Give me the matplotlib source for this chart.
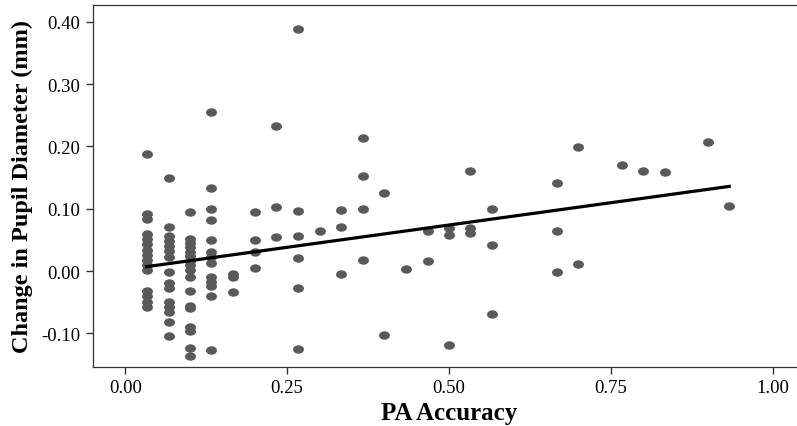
import numpy as np
import matplotlib
matplotlib.use("Agg")
import matplotlib.pyplot as plt
from matplotlib.path import Path
from matplotlib.transforms import Affine2D

# PA accuracy levels and the pupil change values observed at each level
accuracy_levels = [0.033, 0.067, 0.100, 0.133, 0.167, 0.200, 0.233, 0.267,
                   0.300, 0.333, 0.367, 0.400, 0.433, 0.467, 0.500, 0.533,
                   0.567, 0.667, 0.700, 0.767, 0.800, 0.833, 0.900, 0.933]

pupil_change = [
    [0.188, 0.092, 0.084, 0.060, 0.051, 0.043, 0.034, 0.026, 0.018, 0.010,
     0.002, -0.032, -0.040, -0.050, -0.058],
    [0.150, 0.070, 0.057, 0.049, 0.040, 0.032, 0.022, -0.001, -0.019, -0.027,
     -0.049, -0.058, -0.066, -0.081, -0.104],
    [0.095, 0.051, 0.045, 0.038, 0.031, 0.024, 0.016, 0.009, 0.002, -0.009,
     -0.032, -0.056, -0.060, -0.089, -0.096, -0.123, -0.137],
    [0.256, 0.133, 0.100, 0.082, 0.050, 0.030, 0.022, 0.013, -0.010, -0.017,
     -0.024, -0.040, -0.127],
    [-0.005, -0.009, -0.034],
    [0.094, 0.050, 0.030, 0.005],
    [0.232, 0.103, 0.054],
    [0.388, 0.096, 0.056, 0.021, -0.027, -0.125],
    [0.065],
    [0.098, 0.071, -0.004],
    [0.213, 0.152, 0.100, 0.018],
    [0.125, -0.103],
    [0.004],
    [0.065, 0.016],
    [0.069, 0.058, -0.118],
    [0.161, 0.069, 0.061],
    [0.100, 0.042, -0.069],
    [0.142, 0.064, -0.002],
    [0.199, 0.012],
    [0.170],
    [0.160],
    [0.159],
    [0.207],
    [0.105],
]

x_ticks = [0.0, 0.25, 0.5, 0.75, 1.0]
y_ticks = [-0.1, 0.0, 0.1, 0.2, 0.3, 0.4]

x = []
y = []
for level, values in zip(accuracy_levels, pupil_change):
    for v in values:
        x.append(level)
        y.append(v)
x = np.array(x)
y = np.array(y)

plt.rcParams["font.family"] = ["Liberation Serif", "DejaVu Serif"]

fig = plt.figure(figsize=(7.97, 4.27), dpi=100)
ax = fig.add_axes([93 / 797, 1 - 368 / 427, 712 / 797, 362 / 427])

# slightly wide ellipse marker, like the stretched original
ellipse = Path.unit_circle().transformed(Affine2D().scale(1.3, 1.0))
ax.scatter(x, y, s=62, marker=ellipse, color="#595959", linewidths=0, zorder=2)

slope, intercept = np.polyfit(x, y, 1)
xs = np.array([x.min(), x.max()])
ax.plot(xs, intercept + slope * xs, color="black", lw=2.3, zorder=3)

ax.set_xlim(-0.05, 1.05)
ax.set_ylim(-0.154, 0.427)
ax.set_xticks(x_ticks)
ax.set_xticklabels([f"{t:.2f}" for t in x_ticks])
ax.set_yticks(y_ticks)
ax.set_yticklabels([f"{t:.2f}" for t in y_ticks])

for s in ax.spines.values():
    s.set_color("#333333")
    s.set_linewidth(0.9)
ax.tick_params(direction="out", length=5, width=1.0, color="#333333",
               labelsize=13.5, labelcolor="black", pad=4)

ax.set_xlabel("PA Accuracy", fontsize=18, fontweight="bold", labelpad=3)
ax.set_ylabel("Change in Pupil Diameter (mm)", fontsize=17.5,
              fontweight="bold", labelpad=6)

fig.savefig("out.png", dpi=100)
